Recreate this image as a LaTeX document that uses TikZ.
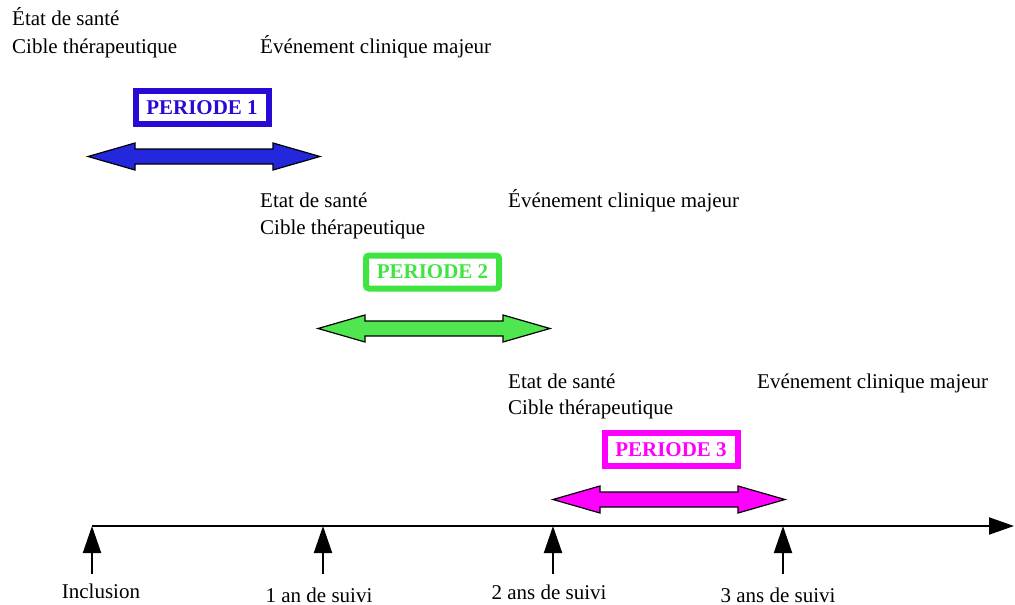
\documentclass[tikz,border=0pt]{standalone}
\usepackage{fontspec}
\setmainfont{Liberation Serif}
\usetikzlibrary{arrows.meta}
\definecolor{pblue}{RGB}{40,10,215}
\definecolor{pbluefill}{RGB}{35,40,220}
\definecolor{pgreen}{RGB}{64,228,64}
\definecolor{pgreenfill}{RGB}{80,230,80}
\definecolor{pmag}{RGB}{255,0,255}
\newcommand\dblarr[4]{% x1, x2, y, colour
  \filldraw[fill=#4,draw=black,line width=1.2pt,line join=miter]
    (#1,#3) -- ({#1+47},{#3-13.5}) -- ({#1+47},{#3-7.5}) -- ({#2-47},{#3-7.5})
    -- ({#2-47},{#3-13.5}) -- (#2,#3) -- ({#2-47},{#3+13.5}) -- ({#2-47},{#3+7.5})
    -- ({#1+47},{#3+7.5}) -- ({#1+47},{#3+13.5}) -- cycle;}
\tikzset{
  txt/.style={anchor=base west,inner sep=0pt,font=\fontsize{21}{28}\selectfont},
  lbl/.style={anchor=base,inner sep=0pt,font=\fontsize{21}{28}\selectfont},
  pbox/.style={draw=#1,text=#1,line width=6pt,minimum width=133pt,minimum height=33pt,
    inner sep=0pt,font=\fontsize{21}{26}\selectfont\bfseries},
  axis/.style={line width=2pt,-{Triangle[length=25pt,width=17pt]}},
  tick/.style={line width=2pt,-{Triangle[length=27pt,width=18pt]}}
}
\begin{document}
\begin{tikzpicture}[x=1pt,y=-1pt]
\useasboundingbox (0,0) rectangle (1015,605);
% period 1
\node[txt] (s1) at (12,25) {État de santé};
\node[txt] (c1) at (12,53) {Cible thérapeutique};
\node[txt] (e1) at (260,53) {Événement clinique majeur};
\node[pbox=pblue] (p1) at (202,107.5) {PERIODE 1};
\dblarr{88}{320}{156.5}{pbluefill}
% period 2
\node[txt] (s2) at (260,207) {Etat de santé};
\node[txt] (c2) at (260,234) {Cible thérapeutique};
\node[txt] (e2) at (508,207) {Événement clinique majeur};
\node[pbox=pgreen,rounded corners=3pt] (p2) at (432.5,272) {PERIODE 2};
\dblarr{318}{550}{328.5}{pgreenfill}
% period 3
\node[txt] (s3) at (508,388) {Etat de santé};
\node[txt] (c3) at (508,414) {Cible thérapeutique};
\node[txt] (e3) at (757,388) {Evénement clinique majeur};
\node[pbox=pmag] (p3) at (671,449.5) {PERIODE 3};
\dblarr{553}{785}{499.5}{pmag}
% timeline
\coordinate (t0) at (92,526);
\coordinate (t1) at (323,526);
\coordinate (t2) at (553,526);
\coordinate (t3) at (783,526);
\coordinate (tend) at (1014,526);
\coordinate (b0) at (92,574);
\coordinate (b1) at (323,574);
\coordinate (b2) at (553,574);
\coordinate (b3) at (783,574);
\draw[axis] (t0) -- (tend);
\draw[tick] (b0) -- (t0);
\draw[tick] (b1) -- (t1);
\draw[tick] (b2) -- (t2);
\draw[tick] (b3) -- (t3);
\node[lbl] (l0) at (101,598) {Inclusion};
\node[lbl] (l1) at (319,602) {1 an de suivi};
\node[lbl] (l2) at (549,599) {2 ans de suivi};
\node[lbl] (l3) at (778,602) {3 ans de suivi};
\end{tikzpicture}
\end{document}
